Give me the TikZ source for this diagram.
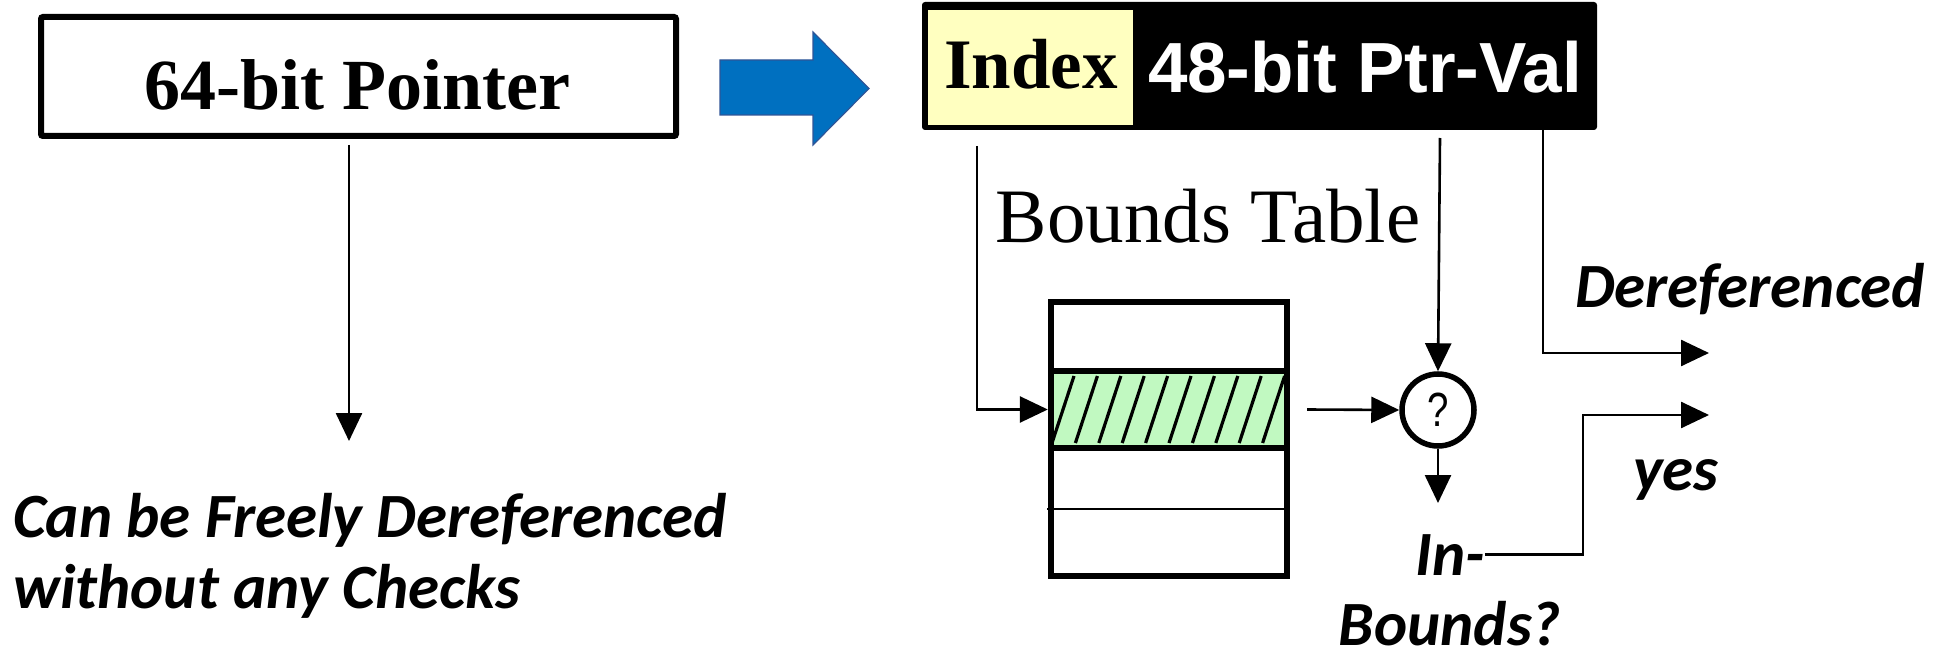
\documentclass[tikz,border=0pt]{standalone}
\usepackage{graphicx}
\usepackage{fontspec}
\setmainfont{Liberation Serif}
\newfontfamily\calfont{Carlito}
\newfontfamily\arialfont{Liberation Sans}
\usetikzlibrary{arrows.meta}
\definecolor{boxyellow}{RGB}{255,255,192}
\definecolor{hatchgreen}{RGB}{193,249,193}
\definecolor{arrowblue}{RGB}{0,112,192}
\definecolor{arrowedge}{RGB}{47,85,151}
\begin{document}
\begin{tikzpicture}[x=1pt,y=-1pt,
  conn/.style={line width=2.6pt, -{Triangle[length=28pt,width=26pt]}},
  caltext/.style={font={\calfont\bfseries\itshape\fontsize{63}{74}\selectfont}, inner sep=0pt},
  serifbold/.style={font={\bfseries\fontsize{72}{80}\selectfont}, inner sep=0pt, anchor=base},
  thickborder/.style={line width=6pt},
  hatchline/.style={line width=3.2pt}
]
\useasboundingbox (0,0) rectangle (1947,655);

% left box
\node[draw, thickborder, rounded corners=2pt, minimum width=635pt, minimum height=119pt, inner sep=0pt] (ptr) at (358.5,76.5) {};
\node[serifbold] (ptrtext) at (357,110) {64-bit Pointer};

% blue arrow
\fill[arrowblue, draw=arrowedge, line width=1.2pt] (720,60) -- (813,60) -- (813,32) -- (869,88.5) -- (813,145) -- (813,115) -- (720,115) -- cycle;

% pointer value box
\node[fill=black, rounded corners=3pt, minimum width=675pt, minimum height=128pt, inner sep=0pt] (ptrval) at (1259.5,66) {};
\node[fill=boxyellow, minimum width=205pt, minimum height=115pt, inner sep=0pt] (idx) at (1030.5,67.5) {};
\node[serifbold, font={\bfseries\fontsize{71}{80}\selectfont}] (idxtext) at (1031,89) {Index};
\node[inner sep=0pt, anchor=base, text=white, font={\arialfont\bfseries\fontsize{71}{80}\selectfont}] (valtext) at (1365,93) {48-bit Ptr-Val};

% bounds table
\node[inner sep=0pt, anchor=base, font={\fontsize{77}{85}\selectfont}] (bt) at (1208,243) {Bounds Table};
\node[fill=hatchgreen, minimum width=236pt, minimum height=77pt, inner sep=0pt] (hrow) at (1169,409.5) {};
\begin{scope}
  \clip (1051,371) rectangle (1287,448);
  \foreach \k in {0,...,9} {
    \draw[hatchline] ({1052+23.4*\k},443) -- ({1074+23.4*\k},376);
  }
\end{scope}
\draw[thickborder] (1051,302) rectangle (1287,576);
\draw[thickborder] (1051,371) -- (1287,371);
\draw[thickborder] (1051,448) -- (1287,448);
\draw[line width=2.6pt] (1047,509) -- (1287,509);

% comparator
\node[circle, draw, line width=5.5pt, minimum size=72pt, inner sep=0pt,
      font={\arialfont\fontsize{48}{48}\selectfont}] (q) at (1438,410) {\scalebox{0.8}[1]{?}};

% texts
\node[caltext, anchor=base] (deref) at (1750,307) {Dereferenced};
\node[caltext, anchor=base] (yes) at (1676,490) {yes};
\node[caltext, anchor=base] (inl) at (1450,575) {In-};
\node[caltext, anchor=base] (bnd) at (1450,645) {Bounds?};
\node[caltext, anchor=base west] (can1) at (13,537) {Can be Freely Dereferenced};
\node[caltext, anchor=base west] (can2) at (13,608) {without any Checks};

% connector ends
\coordinate (leftstart) at (349,145);
\coordinate (lefttip) at (349,441);
\coordinate (idxdown) at (977,146);
\coordinate (valdown) at (1440,138);
\coordinate (qtip) at (1438,503);
\coordinate (derefstart) at (1543,130);
\coordinate (dereftip) at (1709,353);
\coordinate (yesturn) at (1583,415);
\coordinate (yestip) at (1709,415);

% connectors
\draw[conn] (leftstart) -- (lefttip);
\draw[conn, shorten >=3pt] (idxdown) |- (hrow.west);
\draw[conn] (valdown) -- (q.north);
\draw[conn] ([xshift=20pt]hrow.east) -- (q.west);
\draw[conn] (q.south) -- (qtip);
\draw[conn] (derefstart) |- (dereftip);
\draw[conn] (inl.east) -| (yesturn) -- (yestip);
\end{tikzpicture}
\end{document}
